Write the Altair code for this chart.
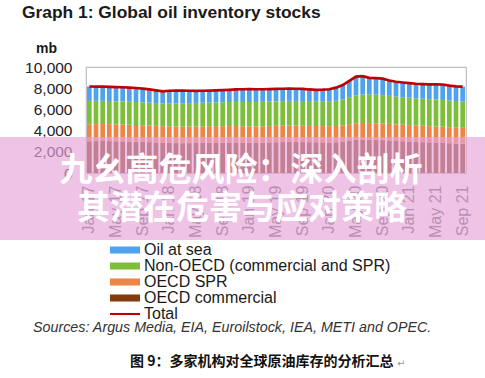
import altair as alt
import pandas as pd

MONTH_ABBR = ["Jan", "Feb", "Mar", "Apr", "May", "Jun", "Jul", "Aug", "Sep", "Oct", "Nov", "Dec"]
months = [f"{m} {y}" for y in ["17", "18", "19", "20", "21"] for m in MONTH_ABBR][:57]

tick_labels = ["Jan 17", "May 17", "Sep 17", "Jan 18", "May 18", "Sep 18", "Jan 19", "May 19",
               "Sep 19", "Jan 20", "May 20", "Sep 20", "Jan 21", "May 21", "Sep 21"]
y_ticks = [0, 2000, 4000, 6000, 8000, 10000]

oecd_commercial = [3000, 3010, 3020, 3010, 2990, 2980, 2970, 2950, 2930, 2910, 2880, 2850,
                   2840, 2820, 2810, 2820, 2830, 2840, 2850, 2860, 2860, 2870, 2880, 2860,
                   2850, 2840, 2860, 2880, 2900, 2920, 2940, 2930, 2920, 2910, 2900, 2890,
                   2880, 2900, 2960, 3060, 3130, 3150, 3140, 3120, 3100, 3070, 3030, 3000,
                   2970, 2930, 2910, 2890, 2870, 2850, 2810, 2780, 2760]
oecd_spr = [1600, 1600, 1600, 1595, 1590, 1590, 1585, 1580, 1575, 1575, 1570, 1570,
            1570, 1565, 1565, 1565, 1560, 1560, 1560, 1555, 1555, 1555, 1550, 1550,
            1550, 1550, 1545, 1545, 1545, 1540, 1540, 1540, 1540, 1535, 1535, 1535,
            1535, 1535, 1535, 1545, 1555, 1565, 1570, 1570, 1565, 1560, 1555, 1550,
            1550, 1545, 1540, 1530, 1520, 1515, 1510, 1505, 1500]
non_oecd = [2200, 2200, 2190, 2190, 2180, 2180, 2170, 2170, 2160, 2160, 2150, 2150,
            2160, 2180, 2200, 2210, 2220, 2230, 2240, 2250, 2260, 2270, 2280, 2290,
            2300, 2300, 2310, 2310, 2320, 2320, 2330, 2330, 2330, 2340, 2340, 2350,
            2360, 2380, 2450, 2550, 2650, 2700, 2720, 2700, 2680, 2650, 2620, 2600,
            2580, 2570, 2560, 2550, 2540, 2530, 2520, 2510, 2500]
oil_at_sea = [1360, 1340, 1330, 1325, 1350, 1340, 1335, 1320, 1295, 1245, 1200, 1130,
              1190, 1215, 1195, 1165, 1130, 1130, 1130, 1135, 1145, 1155, 1170, 1200,
              1210, 1210, 1185, 1175, 1165, 1170, 1150, 1150, 1140, 1095, 1075, 1085,
              1125, 1235, 1355, 1545, 1765, 1715, 1550, 1560, 1555, 1450, 1405, 1390,
              1380, 1375, 1380, 1400, 1430, 1455, 1410, 1375, 1380]
total = [8160, 8150, 8140, 8120, 8110, 8090, 8060, 8020, 7960, 7890, 7800, 7700,
         7760, 7780, 7770, 7760, 7740, 7760, 7780, 7800, 7820, 7850, 7880, 7900,
         7910, 7900, 7900, 7910, 7930, 7950, 7960, 7950, 7930, 7880, 7850, 7860,
         7900, 8050, 8300, 8700, 9100, 9130, 8980, 8950, 8900, 8730, 8610, 8540,
         8480, 8420, 8390, 8370, 8360, 8350, 8250, 8170, 8140]

series_names = ["Oil at sea", "Non-OECD (commercial and SPR)", "OECD SPR", "OECD commercial", "Total"]
series_colors = ["#4FA3EE", "#7DBF3A", "#EE8547", "#843C0C", "#C00000"]

title_text = "Graph 1: Global oil inventory stocks"
source_text = "Sources: Argus Media, EIA, Euroilstock, IEA, METI and OPEC."
caption_text = "图 9：多家机构对全球原油库存的分析汇总"
band_line1 = "九幺高危风险：深入剖析"
band_line2 = "其潜在危害与应对策略"

stack_series = [("OECD commercial", oecd_commercial, 0), ("OECD SPR", oecd_spr, 1),
                ("Non-OECD (commercial and SPR)", non_oecd, 2), ("Oil at sea", oil_at_sea, 3)]
rows = []
for name, vals, rank in stack_series:
    for m, v in zip(months, vals):
        rows.append({"month": m, "series": name, "value": v, "rank": rank})
bar_df = pd.DataFrame(rows)
total_df = pd.DataFrame({"month": months, "total": total})

FONT = "Liberation Sans"
# symbol paths in units of sqrt(size)/2 = 8 px
RECT_PATH = "M-1.875,-0.44 L1.875,-0.44 L1.875,0.44 L-1.875,0.44 Z"
LINE_PATH = "M-1.875,-0.13 L1.875,-0.13 L1.875,0.13 L-1.875,0.13 Z"
shape_expr = "datum.value === 'Total' ? '" + LINE_PATH + "' : '" + RECT_PATH + "'"

x_scale = alt.Scale(domain=months, paddingInner=0.3, paddingOuter=0.15)
y_scale = alt.Scale(domain=[0, 10000], nice=False)

x_axis = alt.Axis(values=tick_labels, labelAngle=270, labelFontSize=16,
                  labelColor="#666666", labelFont=FONT, ticks=False,
                  domain=False, labelPadding=12, labelOverlap=False, grid=False)
y_axis = alt.Axis(values=y_ticks, format=",.0f", labelOverlap=False,
                  labelFontSize=15.5, labelColor="#222222", labelFont=FONT,
                  ticks=False, domain=False, grid=False, labelPadding=14,
                  title="mb", titleAngle=0, titleFontSize=14, titleFont=FONT,
                  titleFontWeight="bold", titleColor="#1a1a1a",
                  titleX=-40, titleY=-19, titleAlign="center",
                  titleBaseline="middle")

bars = alt.Chart(bar_df).mark_bar().encode(
    x=alt.X("month:N", sort=months, title=None, scale=x_scale, axis=x_axis),
    y=alt.Y("value:Q", stack="zero", scale=y_scale, axis=y_axis),
    color=alt.Color("series:N",
                    scale=alt.Scale(domain=series_names, range=series_colors),
                    legend=alt.Legend(orient="none", legendX=31, legendY=175, title=None,
                                      labelFontSize=16, labelFont=FONT, labelLimit=400,
                                      labelColor="#1a1a1a", symbolType={"expr": shape_expr},
                                      symbolSize=256, symbolStrokeWidth=0,
                                      labelOffset=11, rowPadding=0, padding=0,
                                      symbolOpacity=1)),
    order=alt.Order("rank:Q", sort="ascending"),
)

line = alt.Chart(total_df).mark_line(color="#C00000", strokeWidth=2.7).encode(
    x=alt.X("month:N", sort=months, title=None, scale=x_scale, axis=x_axis),
    y=alt.Y("total:Q", scale=y_scale, axis=y_axis),
)

one = pd.DataFrame({"a": [0]})

band = alt.Chart(one).mark_rect(color="#E5A4D9", opacity=0.66).encode(
    x=alt.value(-86), x2=alt.value(399), y=alt.value(70), y2=alt.value(173))

band_text1 = alt.Chart(one).mark_text(font="Noto Sans CJK SC", fontSize=33, fontWeight="bold",
                                      color="white", align="center", baseline="middle").encode(
    x=alt.value(155), y=alt.value(104), text=alt.value(band_line1))
band_text2 = alt.Chart(one).mark_text(font="Noto Sans CJK SC", fontSize=33, fontWeight="bold",
                                      color="white", align="center", baseline="middle").encode(
    x=alt.value(156), y=alt.value(142), text=alt.value(band_line2))

title = alt.Chart(one).mark_text(font=FONT, fontSize=17.4, fontWeight="bold", color="#1a1a1a",
                                 align="left", baseline="middle").encode(
    x=alt.value(-64), y=alt.value(-54), text=alt.value(title_text))

source = alt.Chart(one).mark_text(font=FONT, fontSize=14.3, fontStyle="italic", color="#333333",
                                  align="left", baseline="middle").encode(
    x=alt.value(-53), y=alt.value(261), text=alt.value(source_text))

caption = alt.Chart(one).mark_text(font="Noto Sans CJK SC", fontSize=14, fontWeight="bold",
                                   color="#111111", align="left", baseline="middle").encode(
    x=alt.value(44), y=alt.value(295), text=alt.value(caption_text))

mark_ret = alt.Chart(one).mark_text(font="DejaVu Sans", fontSize=10, color="#999999",
                                    align="left", baseline="middle").encode(
    x=alt.value(311), y=alt.value(297), text=alt.value("↵"))

chart = alt.layer(bars, line, band, band_text1, band_text2, title, source, caption, mark_ret).properties(
    width=380, height=106,
    autosize=alt.AutoSizeParams(type="none"),
    padding={"left": 86, "top": 67, "right": 19, "bottom": 205},
    background="white",
).configure_view(stroke="#BFBFBF", strokeWidth=1.2)

chart.save("out.html", embed_options={"renderer": "svg", "actions": False})
